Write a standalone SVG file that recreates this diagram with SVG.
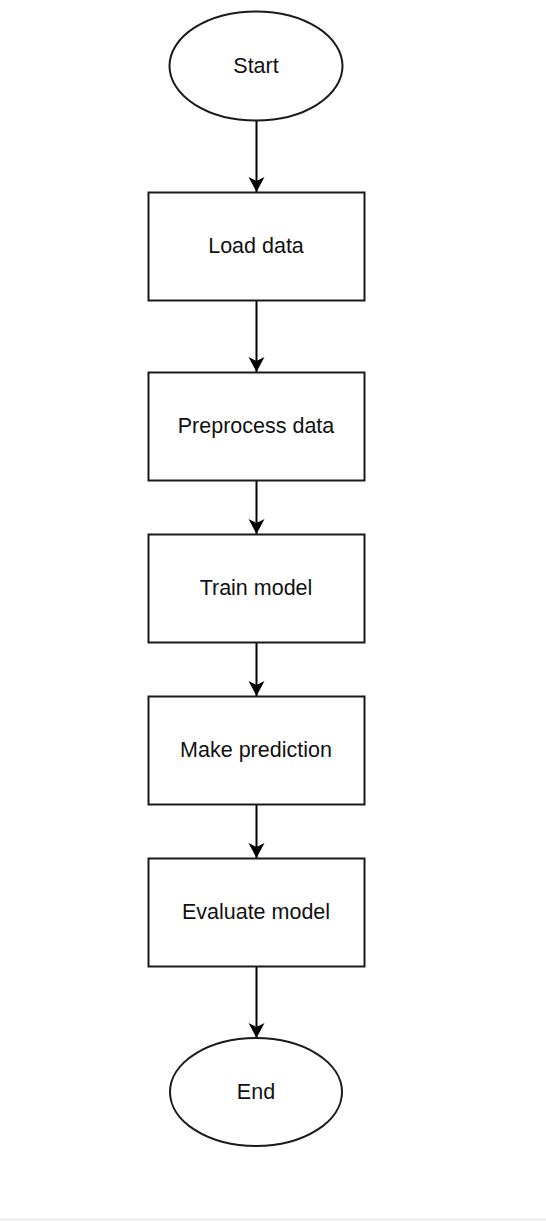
<svg xmlns="http://www.w3.org/2000/svg" width="546" height="1221" viewBox="0 0 546 1221">
<style>
.shape{fill:#ffffff;stroke:#1a1a1a;stroke-width:2}
.lbl{font-family:"Liberation Sans",Arial,sans-serif;font-size:21.5px;fill:#111111;text-anchor:middle}
.conn{stroke:#000000;stroke-width:2;fill:none}
</style>
<defs>
<marker id="arr" markerUnits="userSpaceOnUse" markerWidth="18" markerHeight="18" refX="15" refY="8" orient="auto">
<path d="M0,0 L15,8 L0,16 L4,8 Z" fill="#000000"/>
</marker>
</defs>
<rect x="0" y="0" width="546" height="1221" fill="#ffffff"/>
<rect x="0" y="1218" width="546" height="3" fill="#f0f0f0"/>
<g id="connectors">
<line class="conn" x1="256.5" y1="121" x2="256.5" y2="192" marker-end="url(#arr)"/>
<line class="conn" x1="256.5" y1="300" x2="256.5" y2="372" marker-end="url(#arr)"/>
<line class="conn" x1="256.5" y1="480" x2="256.5" y2="534" marker-end="url(#arr)"/>
<line class="conn" x1="256.5" y1="642" x2="256.5" y2="696" marker-end="url(#arr)"/>
<line class="conn" x1="256.5" y1="804" x2="256.5" y2="858" marker-end="url(#arr)"/>
<line class="conn" x1="256.5" y1="966" x2="256.5" y2="1038" marker-end="url(#arr)"/>
</g>
<g id="start">
<ellipse class="shape" cx="256" cy="66" rx="86.5" ry="54.5"/>
<text class="lbl" x="256" y="73">Start</text>
</g>
<g id="load">
<rect class="shape" x="148.5" y="192.5" width="216" height="108"/>
<text class="lbl" x="256" y="253">Load data</text>
</g>
<g id="preprocess">
<rect class="shape" x="148.5" y="372.5" width="216" height="108"/>
<text class="lbl" x="256" y="433">Preprocess data</text>
</g>
<g id="train">
<rect class="shape" x="148.5" y="534.5" width="216" height="108"/>
<text class="lbl" x="256" y="595">Train model</text>
</g>
<g id="predict">
<rect class="shape" x="148.5" y="696.5" width="216" height="108"/>
<text class="lbl" x="256" y="757">Make prediction</text>
</g>
<g id="evaluate">
<rect class="shape" x="148.5" y="858.5" width="216" height="108"/>
<text class="lbl" x="256" y="919">Evaluate model</text>
</g>
<g id="end">
<ellipse class="shape" cx="256" cy="1092" rx="86" ry="54"/>
<text class="lbl" x="256" y="1099">End</text>
</g>
</svg>
